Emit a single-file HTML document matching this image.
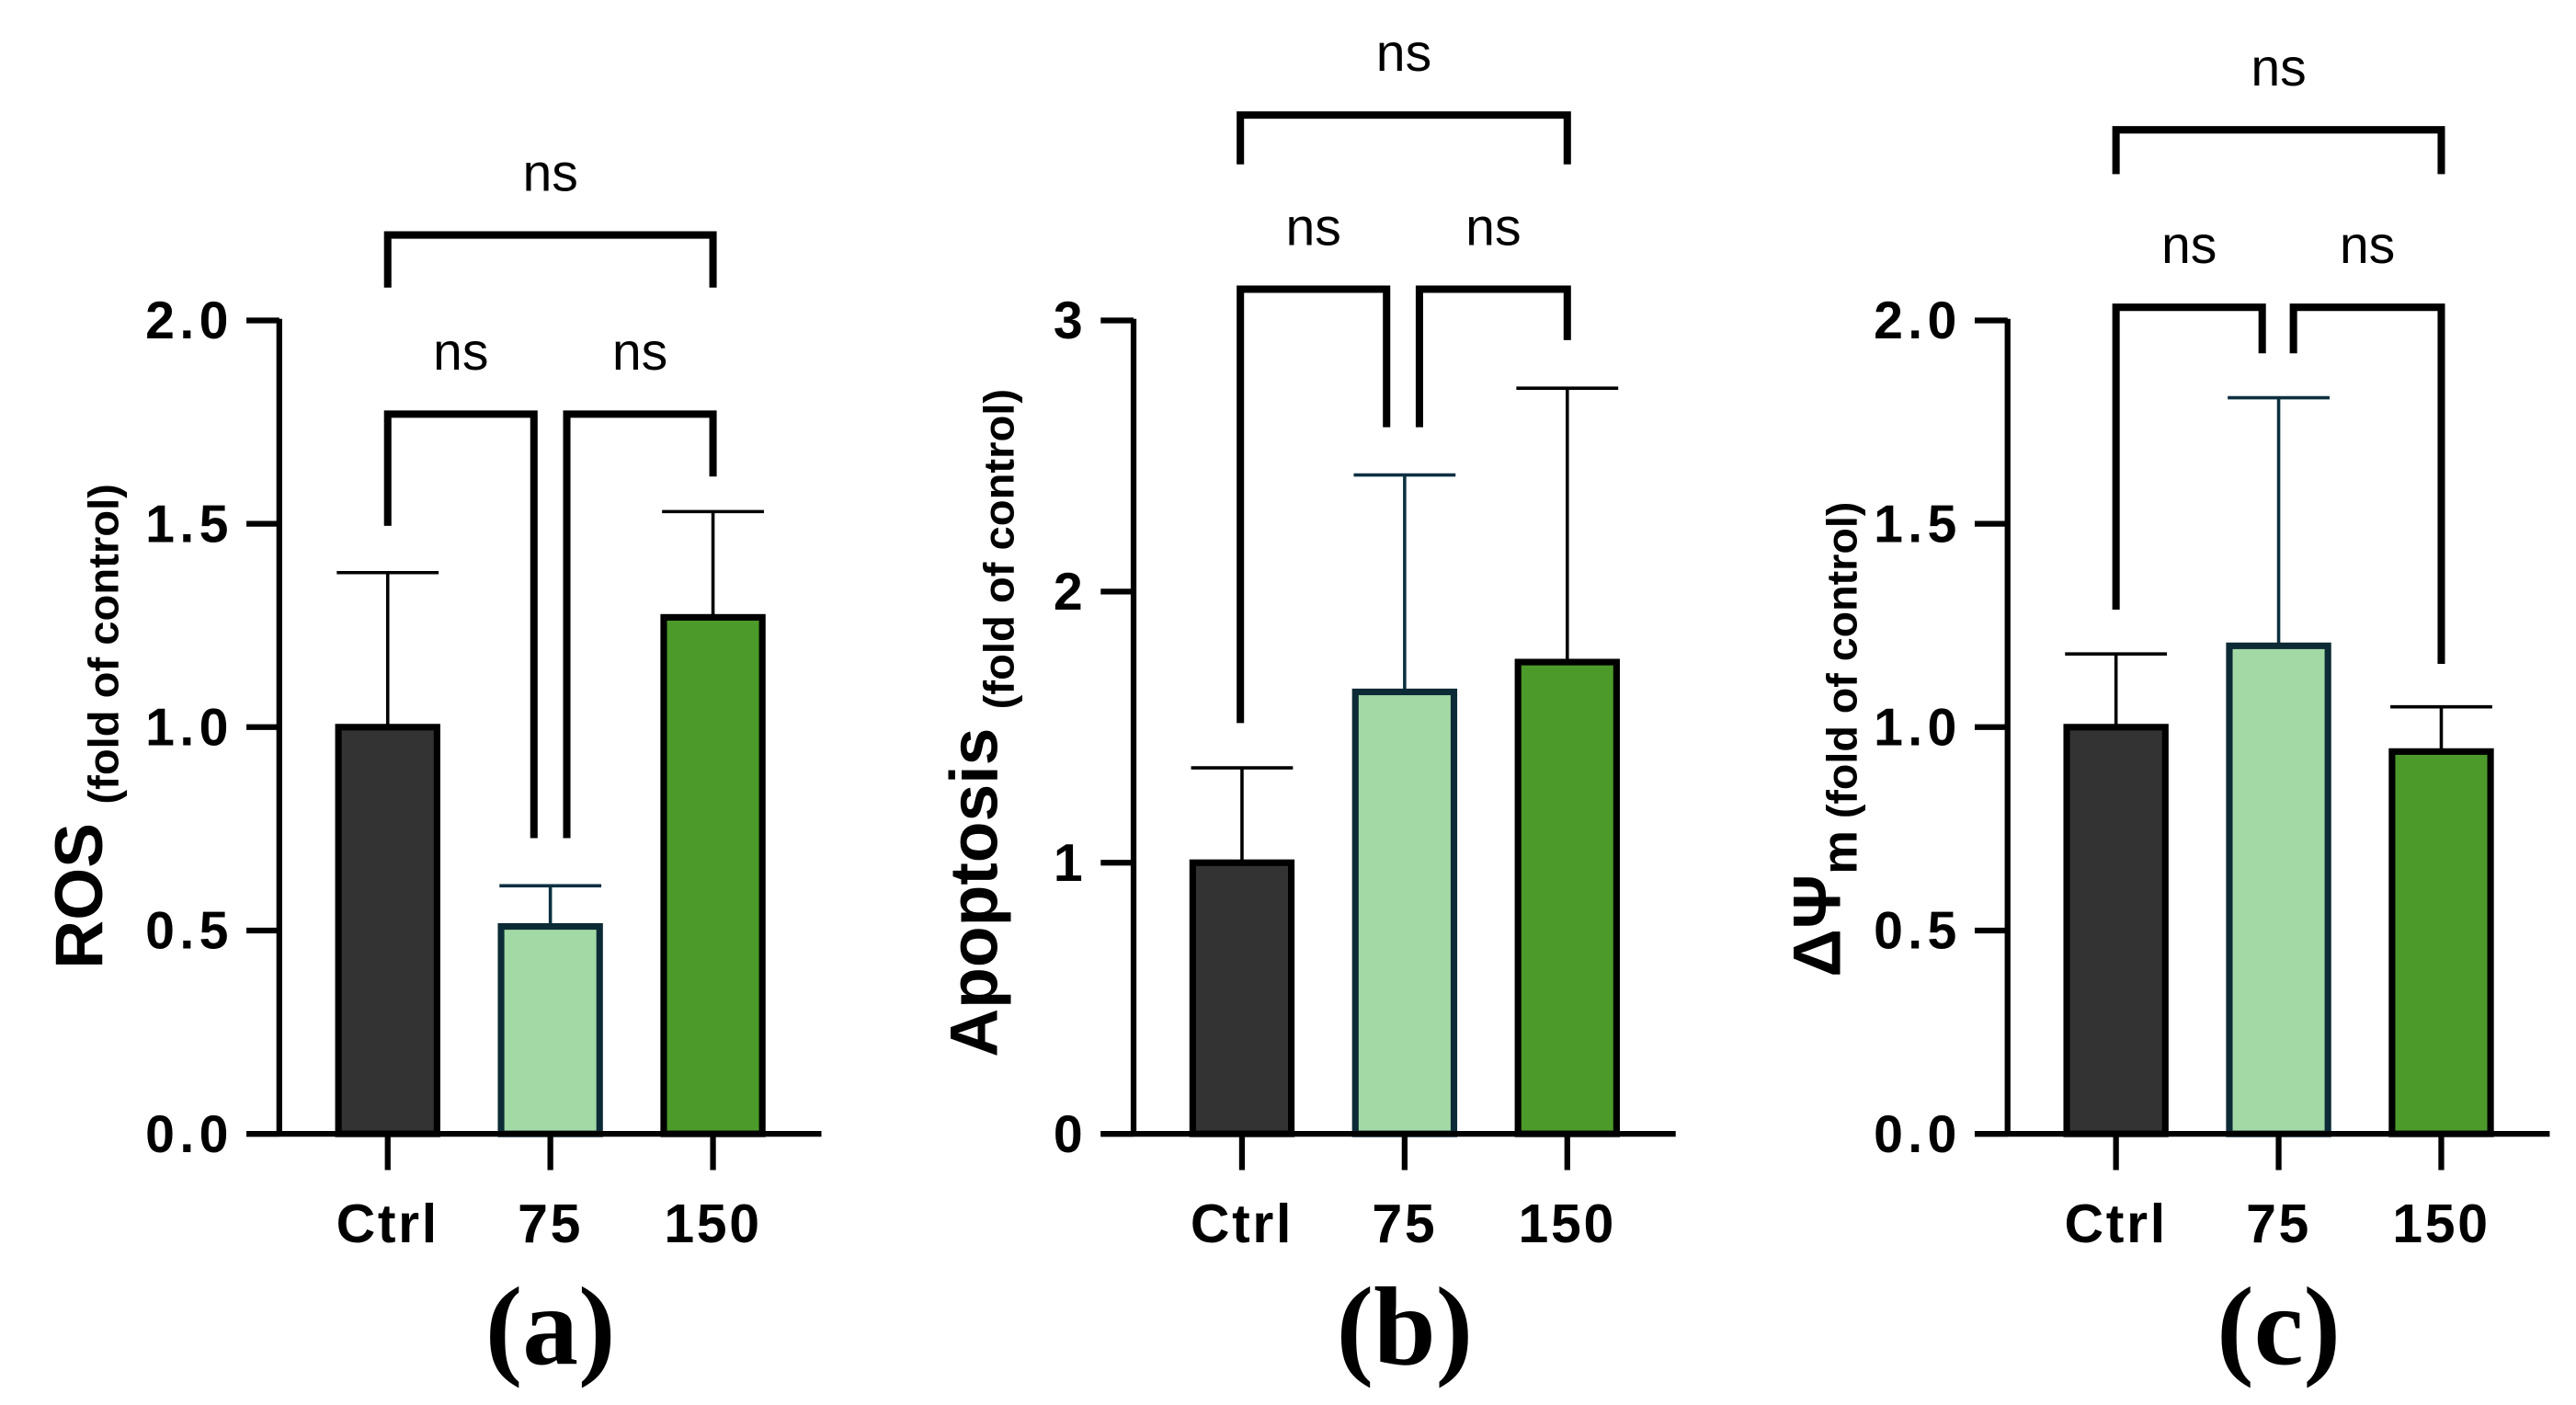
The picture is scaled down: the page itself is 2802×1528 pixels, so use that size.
<!DOCTYPE html>
<html><head><meta charset="utf-8"><style>
html,body{margin:0;padding:0;background:#fff}
svg{display:block}
text{font-family:"Liberation Sans",sans-serif}
</style></head><body>
<svg id="fig" width="2802" height="1528" viewBox="0 0 1568 855" preserveAspectRatio="none" xmlns="http://www.w3.org/2000/svg"></svg>
<script>
const categories = ["Ctrl","75","150"];
const rosValues = [1.0, 0.51, 1.27];
const rosErrors = [1.38, 0.61, 1.53];
const apoValues = [1.0, 1.63, 1.74];
const apoErrors = [1.35, 2.43, 2.75];
const mmpValues = [1.0, 1.2, 0.94];
const mmpErrors = [1.18, 1.81, 1.05];
const rosTicks = ["0.0","0.5","1.0","1.5","2.0"];
const apoTicks = ["0","1","2","3"];
const mmpTicks = ["0.0","0.5","1.0","1.5","2.0"];

const NS = "http://www.w3.org/2000/svg";
const svg = document.getElementById('fig');
function mk(tag, attrs, parent){
  const e = document.createElementNS(NS, tag);
  for (const k in attrs) e.setAttribute(k, attrs[k]);
  (parent||svg).appendChild(e);
  return e;
}
const fills = ["#333333","#a3d9a5","#4c9a2a"];
const strokes = ["#000","#0d2b36","#000"];

function panel(cfg){
  const g = mk('g', {});
  
  
  const x0 = cfg.ax, yBot = 690, yTop = 195, ymax = cfg.ymax;
  const yS = v => yBot - (v/ymax)*(yBot - yTop);
  const centers = [x0+66, x0+165, x0+264];
  const xS = i => centers[i];
  cfg.vals.forEach((v,i)=>{
    const err = mk('line',{x1:xS(i),x2:xS(i),y1:yS(v),y2:yS(cfg.errs[i]),stroke:i==1?"#0d3040":"#000","stroke-width":2},g);
    
    
    const cap = mk('line',{x1:xS(i)-31,x2:xS(i)+31,y1:yS(cfg.errs[i]),y2:yS(cfg.errs[i]),stroke:i==1?"#0d3040":"#000","stroke-width":2},g);
    
    
    const b = mk('rect',{x:xS(i)-30,y:yS(v),width:60,height:yBot-yS(v),fill:fills[i],stroke:strokes[i],"stroke-width":4},g);
    
    
    const t = mk('line',{x1:xS(i),x2:xS(i),y1:yBot,y2:yBot+22,stroke:"#000","stroke-width":3.5},g);
    
    
    const l = mk('text',{x:xS(i),y:756,"text-anchor":"middle","font-size":33,"font-weight":"900","letter-spacing":"1.5"},g);
    l.textContent = categories[i];
    
    
  });
  const ya = mk('line',{x1:x0,x2:x0,y1:yTop-1,y2:yBot+1.5,stroke:"#000","stroke-width":3.5},g);
  
  
  const xa = mk('line',{x1:x0-20,x2:x0+330,y1:yBot,y2:yBot,stroke:"#000","stroke-width":3.5},g);
  
  
  cfg.ticks.forEach((lab,i)=>{
    const v = i*ymax/(cfg.ticks.length-1);
    const t = mk('line',{x1:x0-20,x2:x0,y1:yS(v),y2:yS(v),stroke:"#000","stroke-width":3.5},g);
    
    
    const l = mk('text',{x:x0-28,y:yS(v)+11,"text-anchor":"end","font-size":32,"font-weight":"900","letter-spacing":"3"},g);
    l.textContent = lab;
    
    
  });
  cfg.brackets.forEach(br=>{
    const p = mk('path',{d:`M${br[0]},${br[2]} V${br[4]} H${br[1]} V${br[3]}`,fill:"none",stroke:"#000","stroke-width":4.5},g);
    
    
    const t = mk('text',{x:(br[0]+br[1])/2,y:br[4]-27,"text-anchor":"middle","font-size":32},g);
    t.textContent = "ns";
    
    
  });
  const yt = mk('text',{transform:`translate(${cfg.tx},${cfg.ty}) rotate(-90)`,"text-anchor":"middle","font-weight":"bold","font-size":41},g);
  
  
  yt.innerHTML = cfg.title;
  const pl = mk('text',{x:centers[1],y:830,"text-anchor":"middle","font-size":68,"font-weight":"bold"},g);
  pl.textContent = cfg.label;
  pl.style.fontFamily = '"Liberation Serif", serif';
  
  
}
panel({name:'panel-a-ros',ax:170,ymax:2,vals:rosValues,errs:rosErrors,ticks:rosTicks,
  brackets:[[236,434,175,175,143],[236,325,320,510,252],[345,434,510,290,252]],
  tx:62,ty:442,title:'ROS <tspan dy="10" font-size="26" textLength="195" lengthAdjust="spacingAndGlyphs">(fold of control)</tspan>',label:'(a)'});
panel({name:'panel-b-apoptosis',ax:690,ymax:3,vals:apoValues,errs:apoErrors,ticks:apoTicks,
  brackets:[[755,954,100,100,70],[755,844,440,260,176],[864,954,260,207,176]],
  tx:607,ty:440,title:'Apoptosis <tspan dy="10" font-size="26" textLength="195" lengthAdjust="spacingAndGlyphs">(fold of control)</tspan>',label:'(b)'});
panel({name:'panel-c-mmp',ax:1222,ymax:2,vals:mmpValues,errs:mmpErrors,ticks:mmpTicks,
  brackets:[[1288,1486,106,106,79],[1288,1377,371,215,187],[1396,1486,215,404,187]],
  tx:1120,ty:450,title:'ΔΨ<tspan dy="10" font-size="30">m</tspan><tspan font-size="26" textLength="200" lengthAdjust="spacingAndGlyphs"> (fold of control)</tspan>',label:'(c)'});
</script>
</body></html>
